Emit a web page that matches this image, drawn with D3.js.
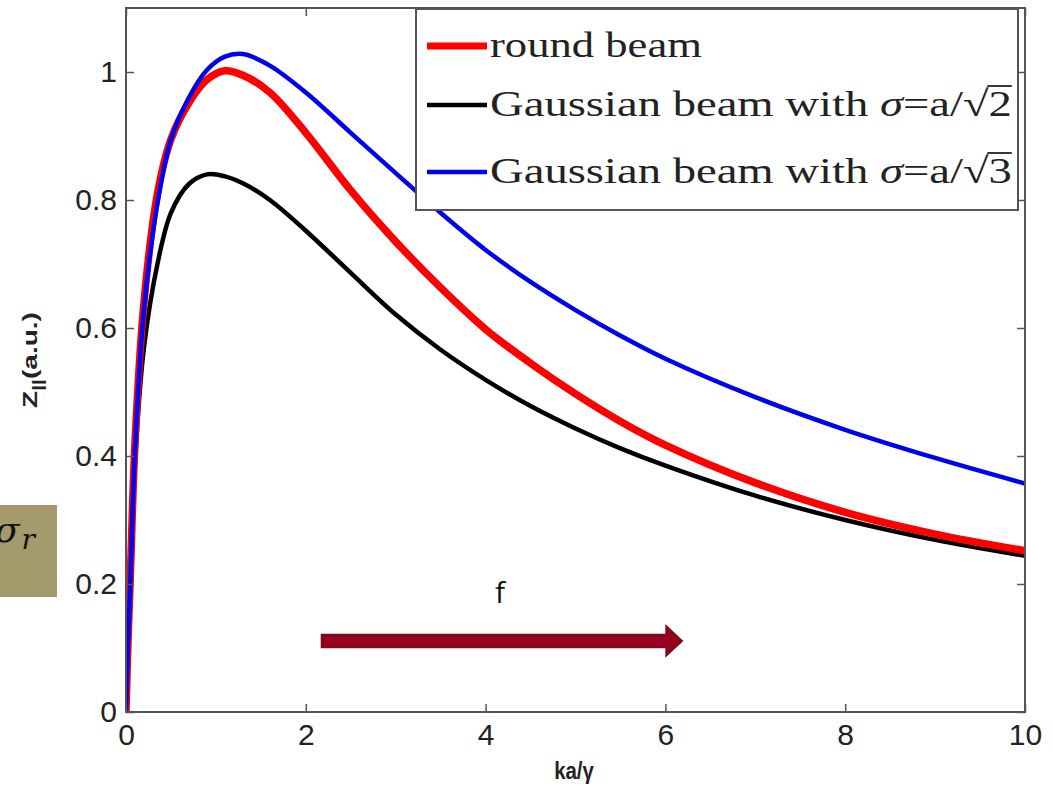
<!DOCTYPE html>
<html lang="en">
<head>
    <meta charset="UTF-8">
    <title>Z|| vs ka/gamma</title>
    <script src="https://cdnjs.cloudflare.com/ajax/libs/d3/7.8.5/d3.min.js" charset="utf-8"></script>
    <style>
        body {
            margin: 0;
            padding: 0;
            background: #fff;
        }
        svg {
            display: block;
        }
        .axis .domain {
            display: none;
        }
        .axis .tick line {
            stroke: #555;
            stroke-width: 1.5;
        }
        .axis .tick text {
            font-family: Arial, "Liberation Sans", sans-serif;
            font-size: 30px;
            fill: #222;
        }
        .curve {
            fill: none;
            stroke-linejoin: round;
            stroke-linecap: round;
        }
        .legend text {
            font-family: "Liberation Serif", "DejaVu Serif", serif;
            font-size: 36px;
            fill: #222;
        }
        .label {
            font-family: Arial, "Liberation Sans", sans-serif;
            font-weight: bold;
            fill: #222;
        }
    </style>
</head>
<body>
<svg width="1053" height="790"></svg>
<script>
    // values
    var kx = [0, 0.02, 0.05, 0.1, 0.2, 0.35, 0.5, 0.7, 0.9, 1.1, 1.3, 1.6, 2, 2.5, 3, 3.5, 4, 4.5, 5, 5.5, 6, 7, 8, 9, 10];
    var roundBeam = [0, 0.10, 0.22, 0.42, 0.64, 0.81, 0.895, 0.952, 0.988, 1.002, 0.995, 0.968, 0.905, 0.815, 0.735, 0.663, 0.598, 0.545, 0.497, 0.454, 0.417, 0.358, 0.312, 0.278, 0.252];
    var gaussSqrt2 = [0, 0.09, 0.20, 0.39, 0.57, 0.70, 0.78, 0.825, 0.840, 0.837, 0.826, 0.800, 0.752, 0.686, 0.621, 0.566, 0.519, 0.478, 0.443, 0.412, 0.385, 0.338, 0.300, 0.269, 0.244];
    var gaussSqrt3 = [0, 0.09, 0.21, 0.41, 0.63, 0.795, 0.895, 0.960, 1.003, 1.024, 1.028, 1.010, 0.968, 0.905, 0.842, 0.780, 0.722, 0.672, 0.628, 0.588, 0.552, 0.492, 0.441, 0.397, 0.357];

    var xTicks = [0, 2, 4, 6, 8, 10];
    var yTicks = [0, 0.2, 0.4, 0.6, 0.8, 1];
    var yTickLabels = ['0', '0.2', '0.4', '0.6', '0.8', '1'];

    var seriesNames = ['round beam', 'Gaussian beam with \u03c3=a/\u221a2', 'Gaussian beam with \u03c3=a/\u221a3'];
    var seriesColors = ['#ff0000', '#000000', '#0000ee'];

    var svg = d3.select('svg');

    // plot box (window.top is read-only, so no plain "top")
    var pL = 126, pR = 1025, pT = 8, pB = 712;

    var x = d3.scaleLinear().domain([0, 10]).range([pL, pR]);
    var y = d3.scaleLinear().domain([0, 1.1]).range([pB, pT]);

    // curves
    svg.append('clipPath').attr('id', 'plot-clip')
        .append('rect')
        .attr('x', pL).attr('y', pT)
        .attr('width', pR - pL).attr('height', pB - pT);

    var line = d3.line()
        .x(function (d) { return x(d[0]); })
        .y(function (d) { return y(d[1]); })
        .curve(d3.curveCatmullRom.alpha(0.5));

    var curves = [
        {vals: gaussSqrt2, color: seriesColors[1], w: 4.5},
        {vals: roundBeam, color: seriesColors[0], w: 7.5},
        {vals: gaussSqrt3, color: seriesColors[2], w: 4.5}
    ];

    svg.append('g').attr('clip-path', 'url(#plot-clip)')
        .selectAll('path')
        .data(curves)
        .enter().append('path')
        .attr('class', 'curve')
        .attr('d', function (c) {
            return line(kx.map(function (k, i) { return [k, c.vals[i]]; }));
        })
        .style('stroke', function (c) { return c.color; })
        .style('stroke-width', function (c) { return c.w; });

    // axes, ticks inside on all four sides
    svg.append('g').attr('class', 'axis')
        .attr('transform', 'translate(0,' + pB + ')')
        .call(d3.axisBottom(x).tickValues(xTicks).tickSizeInner(-8).tickSizeOuter(0).tickPadding(12));
    svg.append('g').attr('class', 'axis')
        .attr('transform', 'translate(0,' + pT + ')')
        .call(d3.axisTop(x).tickValues(xTicks).tickSizeInner(-8).tickSizeOuter(0).tickFormat(''));
    svg.append('g').attr('class', 'axis')
        .attr('transform', 'translate(' + pL + ',0)')
        .call(d3.axisLeft(y).tickValues(yTicks).tickSizeInner(-8).tickSizeOuter(0).tickPadding(9)
            .tickFormat(function (d, i) { return yTickLabels[i]; }));
    svg.append('g').attr('class', 'axis')
        .attr('transform', 'translate(' + pR + ',0)')
        .call(d3.axisRight(y).tickValues(yTicks).tickSizeInner(-8).tickSizeOuter(0).tickFormat(''));

    svg.append('rect')
        .attr('x', pL).attr('y', pT)
        .attr('width', pR - pL).attr('height', pB - pT)
        .style('fill', 'none').style('stroke', '#555').style('stroke-width', 2);

    // axis labels
    svg.append('text').attr('class', 'label')
        .attr('transform', 'translate(574,779) scale(0.85,1)')
        .attr('text-anchor', 'middle')
        .style('font-size', '24px')
        .text('ka/\u03b3');

    var yl = svg.append('text').attr('class', 'label')
        .attr('transform', 'translate(37,360) rotate(-90) scale(1.4,1)')
        .attr('text-anchor', 'middle')
        .style('font-size', '20px');
    yl.append('tspan').text('Z');
    yl.append('tspan').attr('dy', 6).style('font-size', '15px').text('||');
    yl.append('tspan').attr('dy', -6).text('(a.u.)');

    // legend
    var legend = svg.append('g').attr('class', 'legend');
    legend.append('rect')
        .attr('x', 416).attr('y', 9).attr('width', 602).attr('height', 201)
        .style('fill', '#fff').style('stroke', '#555').style('stroke-width', 2);

    var rowY = [46, 105, 172];
    var rowWidth = [212, 522, 522];
    seriesNames.forEach(function (name, i) {
        var row = legend.append('g').attr('transform', 'translate(0,' + rowY[i] + ')');
        row.append('line')
            .attr('x1', 427).attr('x2', 487)
            .style('stroke', seriesColors[i])
            .style('stroke-width', i === 0 ? 7 : 4.5);
        var tg = row.append('g');
        var t = tg.append('text').attr('x', 0).attr('y', 11);
        var sIdx = name.indexOf('\u03c3');
        if (sIdx < 0) {
            t.text(name);
        } else {
            t.append('tspan').text(name.slice(0, sIdx));
            t.append('tspan').style('font-style', 'italic').text('\u03c3');
            t.append('tspan').text(name.slice(sIdx + 1));
        }
        var full = t.node().getComputedTextLength();
        var sx = rowWidth[i] / full;
        tg.attr('transform', 'translate(490,0) scale(' + sx + ',1)');
        var rIdx = name.indexOf('\u221a');
        if (rIdx >= 0) {
            var node = t.node();
            var x1 = node.getEndPositionOfChar(rIdx).x - 1;
            var x2 = node.getEndPositionOfChar(rIdx + 1).x;
            tg.append('line')
                .attr('x1', x1).attr('x2', x2)
                .attr('y1', 11 - 30).attr('y2', 11 - 30)
                .style('stroke', '#222').style('stroke-width', 1.8);
        }
    });

    // frequency arrow
    var ay = y(0.111), ax0 = x(2.18), ax1 = x(6.18);
    svg.append('path')
        .attr('d', 'M' + ax0 + ',' + (ay - 6) + 'H' + (ax1 - 15) + 'V' + (ay - 14) +
            'L' + ax1 + ',' + ay + 'L' + (ax1 - 15) + ',' + (ay + 14) + 'V' + (ay + 6) +
            'H' + ax0 + 'Z')
        .style('fill', '#9a0020')
        .style('stroke', '#7a0c1c')
        .style('stroke-width', 2.5);
    svg.append('text')
        .attr('x', 500).attr('y', 603)
        .attr('text-anchor', 'middle')
        .style('font-family', '"Open Sans", "Liberation Sans", sans-serif')
        .style('font-size', '30px')
        .style('fill', '#111')
        .text('f');

    // side box, cut at the page edge as in the picture
    svg.append('rect')
        .attr('x', 0).attr('y', 505).attr('width', 57).attr('height', 92)
        .style('fill', '#a59a6c');
    var sr = svg.append('text')
        .attr('x', -5).attr('y', 542)
        .style('font-family', '"DejaVu Serif", serif')
        .style('font-style', 'italic')
        .style('font-size', '36px')
        .style('fill', '#111');
    sr.append('tspan').text('\u03c3');
    sr.append('tspan').attr('dx', 2).attr('dy', 7).style('font-size', '28px').text('r');
</script>
</body>
</html>
